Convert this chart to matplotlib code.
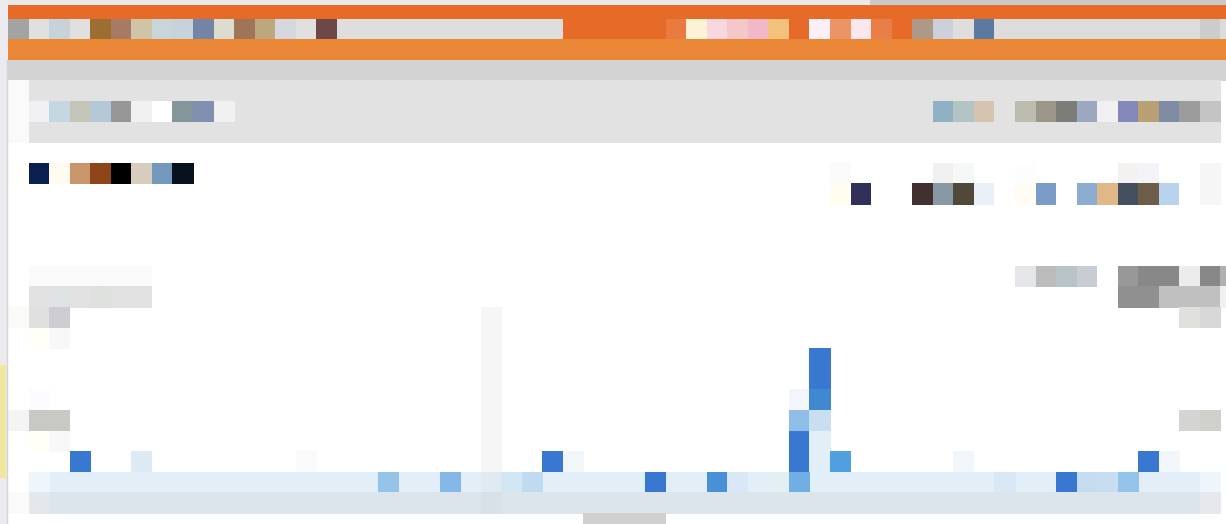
import matplotlib
matplotlib.use("Agg")
import matplotlib.pyplot as plt

# grid of the mosaic (pixels)
X0, CW = 8.0, 20.55
Y0, RH = 18.5, 20.6
PAD = 0.6  # small overlap so neighbouring cells leave no seams
W, H = 1226, 524

ORANGE = "#e66a28"
ORANGE_LIGHT = "#ea8736"
BAND_BLUE = "#e2eef8"
BLUE = "#3878d0"

# header row (row 0)
nav_left = ["#a3a3a3", "#e0e0e0", "#c8d2da", "#e0e0e0", "#9b6e32", "#a67a64",
            "#cfc3a8", "#c8d6dc", "#c8d2da", "#7484a6", "#dcdcd0", "#a07458",
            "#bca87c", "#d4d8de", "#e0e0e0", "#6c4848"] + ["#dedede"] * 11
nav_right = ["#ea7a40", "#fdf2d6", "#f8d8de", "#f4c8c8", "#f0b8c8", "#f2c27c",
             ORANGE, "#fbf0f8", "#ec9466", "#fbe8ee", "#ea7e48", ORANGE,
             "#ae9888", "#ccd0da", "#dedede", "#5a7aa0"] + ["#dcdcdc"] * 10 + ["#cccccc", "#dcdcdc"]

# toolbar row (row 4)
tool_left = ["#f0f0f2", "#c4d6e2", "#c4c4b8", "#b4c8d8", "#969696", "#f0f0f2",
             "#ffffff", "#84969a", "#8090b0", "#f0f0f2"]
tool_right = ["#90b0c4", "#b4c4c4", "#d4c4b0", "#e2e2e2", "#bcbcb0", "#9c9688",
              "#7c7c78", "#9ca8c0", "#f0f0f2", "#8488b8", "#b8a074", "#808ca4",
              "#9c9c9c", "#c4c4c4"]

# title / legend rows (rows 7-8)
title_left = ["#fffef8", "#0a1e50", "#fffaf0", "#c8966a", "#8c4418", "#000000",
              "#d8ccbc", "#7498bc", "#08121e"]
legend_top = {40: "#fafafa", 45: "#f0f0ee", 46: "#f6f8f8", 49: "#fcfefe",
              54: "#f4f2f0", 55: "#f2f4f8", 58: "#f6f6f6"}
legend_right = ["#fffcf0", "#303058", "#ffffff", "#ffffff", "#403030", "#8898a4",
                "#504838", "#eaf0f8", "#ffffff", "#fffcf4", "#7c9cc8", "#ffffff",
                "#8cacd0", "#e0b888", "#445060", "#6c5c48", "#b8d4ec", "#ffffff",
                "#f6f6f6"]

# axis labels (rows 12-20)
label_r12 = ["#e4e6ea", "#bcbcbc", "#b8c4c8", "#c8ccd4", "#ffffff", "#989898",
             "#888888", "#888888", "#ececec", "#888888", "#b0b0b0"]
label_r13_left = ["#e2e2e2", "#dfe2e2", "#e2e2e2", "#dfe1df", "#e2e2e2", "#e2e2e2"]
label_r13_right = ["#909090", "#909090", "#c0c0c0", "#c0c0c0", "#c0c0c0", "#f0f0f0"]

# activity chart: stacked cells above the baseline band
spike = {16: {39: BLUE}, 17: {39: BLUE},
         18: {38: "#f2f6fc", 39: "#4088d0"},
         19: {38: "#90bce8", 39: "#c8dff2"},
         20: {38: BLUE, 39: BAND_BLUE}}
row21 = {3: BLUE, 6: "#dceaf4", 14: "#fafafa", 26: BLUE, 27: "#f0f6fa",
         38: BLUE, 39: BAND_BLUE, 40: "#50a0e0", 46: "#f0f6fa", 55: BLUE,
         56: "#f0f6fa"}
row22 = {1: "#eef6fc", 18: "#94c4ea", 21: "#84b8e8", 23: "#e0eaf2",
         24: "#d2e6f4", 25: "#c0daf0", 31: BLUE, 34: "#4890d8", 35: "#d8e8f6",
         37: "#e2f0f4", 38: "#70aee4", 48: "#d8e8f4", 51: BLUE, 52: "#c4dcf0",
         53: "#c8ddf2", 54: "#94c4ea", 58: "#eef6fc"}
row23 = {0: "#fafafa", 1: "#e4e8ec", 23: "#d8e0e8", 58: "#e6e8ec"}


def paint(ax, row, start, colors):
    cols = range(start, start + len(colors))
    ax.bar([X0 + CW * c for c in cols], RH + PAD, width=CW + PAD,
           bottom=Y0 + RH * row, align="edge", color=colors, linewidth=0)


def paint_map(ax, row, mapping):
    cols = list(mapping.keys())
    ax.bar([X0 + CW * c for c in cols], RH + PAD, width=CW + PAD,
           bottom=Y0 + RH * row, align="edge", color=list(mapping.values()),
           linewidth=0)


fig = plt.figure(figsize=(W / 100, H / 100), dpi=100)
ax = fig.add_axes([0, 0, 1, 1])
ax.set_xlim(0, W)
ax.set_ylim(H, 0)
ax.axis("off")

# page chrome
ax.axhspan(0, 5, color="#e9e9e9", lw=0)
ax.axhspan(0, 5, xmin=870 / W, color="#c9c9c9", lw=0)
ax.axvspan(0, X0, color="#ebebef", lw=0)
ax.axvline(X0 - 1, ymin=0, ymax=1 - 60 / H, color="#d4d4d4", lw=1)
ax.axvspan(0, 6, ymin=1 - 478 / H, ymax=1 - 365 / H, color="#f0e8a0", lw=0)
ax.axhspan(5, Y0 + 0.5, xmin=X0 / W, color=ORANGE, lw=0)

paint(ax, 0, 27, [ORANGE] * 5)
paint(ax, 0, 0, nav_left)
paint(ax, 0, 32, nav_right)
paint(ax, 1, 0, [ORANGE_LIGHT] * 60)
paint(ax, 2, 0, ["#d3d3d3"] * 60)
for r in (3, 4, 5):
    paint(ax, r, 0, ["#fafafa"] + ["#e2e2e2"] * 58)
paint(ax, 4, 1, tool_left)
paint(ax, 4, 45, tool_right)

paint(ax, 7, 0, title_left)
paint_map(ax, 7, legend_top)
paint(ax, 8, 40, legend_right)

paint(ax, 12, 1, ["#fafafa"] * 6)
paint(ax, 12, 49, label_r12)
paint(ax, 13, 1, label_r13_left)
paint(ax, 13, 54, label_r13_right)
paint(ax, 14, 0, ["#fcfaf8", "#e0e0e0", "#ccccd2"])
paint(ax, 14, 57, ["#e0e0dc", "#d8d8d8"])
paint(ax, 15, 1, ["#fffff8", "#f8f8f8"])
paint(ax, 18, 1, ["#fcfcfe"])
paint(ax, 19, 0, ["#f4f4f4", "#c8c8c4", "#c8c8c4"])
paint(ax, 19, 57, ["#d4d4d2", "#d0d0cc"])
paint(ax, 20, 1, ["#fffff8", "#f8f8f8"])
for r in range(14, 22):
    paint(ax, r, 23, ["#f6f6f6"])

for r, m in spike.items():
    paint_map(ax, r, m)
paint_map(ax, 21, row21)
paint(ax, 22, 1, [BAND_BLUE] * 58)
paint_map(ax, 22, row22)
paint(ax, 23, 1, ["#dce4ec"] * 58)
paint_map(ax, 23, row23)
paint(ax, 24, 28, ["#d0d0d0"] * 4)

fig.savefig("out.png", dpi=100, facecolor="white")
